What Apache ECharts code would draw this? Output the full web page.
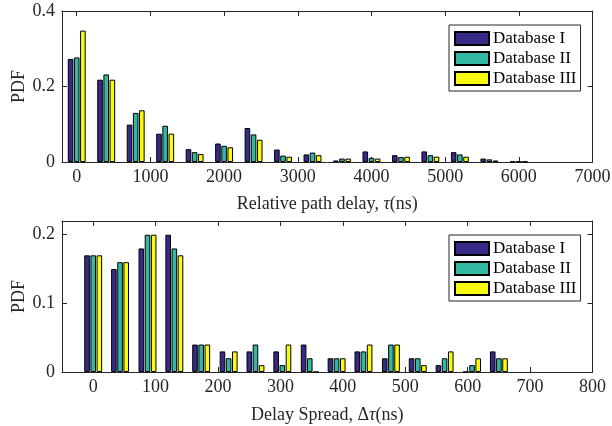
<!DOCTYPE html>
<html>
<head>
<meta charset="utf-8">
<script src="https://cdn.jsdelivr.net/npm/echarts@6/dist/echarts.min.js"></script>
<style>
html,body{margin:0;padding:0;background:#fff;}
#c{width:612px;height:426px;}
</style>
</head>
<body>
<div id="c"></div>
<script>
// ---- Data: top panel (relative path delay) ----
const delayTau = [0, 400, 800, 1200, 1600, 2000, 2400, 2800, 3200, 3600, 4000, 4400, 4800, 5200, 5600, 6000];
const tauDB1 = [0.273, 0.218, 0.099, 0.075, 0.034, 0.049, 0.090, 0.033, 0.020, 0.004, 0.028, 0.018, 0.028, 0.026, 0.009, 0.001];
const tauDB2 = [0.277, 0.232, 0.130, 0.096, 0.026, 0.043, 0.073, 0.017, 0.025, 0.009, 0.011, 0.013, 0.018, 0.020, 0.007, 0.001];
const tauDB3 = [0.348, 0.218, 0.137, 0.075, 0.021, 0.039, 0.059, 0.014, 0.018, 0.009, 0.009, 0.014, 0.014, 0.014, 0.004, 0.001];
const tauTicks = [0, 1000, 2000, 3000, 4000, 5000, 6000, 7000];
const tauYTicks = [0, 0.2, 0.4];

// ---- Data: bottom panel (delay spread) ----
const spread = [0, 43, 87, 130, 173, 217, 260, 303, 347, 390, 433, 477, 520, 563, 607, 650];
const dsDB1 = [0.17, 0.15, 0.18, 0.20, 0.04, 0.03, 0.03, 0.03, 0.04, 0.02, 0.03, 0.02, 0.02, 0.01, 0.00, 0.03];
const dsDB2 = [0.17, 0.16, 0.20, 0.18, 0.04, 0.02, 0.04, 0.01, 0.02, 0.02, 0.03, 0.04, 0.02, 0.02, 0.01, 0.02];
const dsDB3 = [0.17, 0.16, 0.20, 0.17, 0.04, 0.03, 0.01, 0.04, 0.00, 0.02, 0.04, 0.04, 0.01, 0.03, 0.02, 0.02];
const dsTicks = [0, 100, 200, 300, 400, 500, 600, 700, 800];
const dsYTicks = [0, 0.1, 0.2];

const names = ['Database I', 'Database II', 'Database III'];
const colors = ['#352A87', '#33B8A1', '#F9FB0E'];

const FONT = 'Liberation Serif';
const AX = '#262626';
const zip = (xs, ys) => xs.map((x, i) => [x, ys[i]]);

function xAx(grid, min, max, ticks, name, pos, show, gap) {
  return {
    type: 'value', gridIndex: grid, min: min, max: max, position: pos,
    name: show ? name : '', nameLocation: 'middle', nameGap: gap || 30,
    nameTextStyle: { fontFamily: FONT, fontSize: 18, color: AX, rich: { i: { fontFamily: FONT, fontSize: 18, fontStyle: 'italic', color: AX } } },
    axisLine: { show: true, onZero: false, lineStyle: { color: AX, width: 1 } },
    axisTick: { show: true, inside: true, length: 5, customValues: ticks, lineStyle: { color: AX } },
    axisLabel: { show: show, customValues: ticks, margin: 6, fontFamily: FONT, fontSize: 18, color: AX,
      formatter: v => String(v) },
    splitLine: { show: false }
  };
}
function yAx(grid, min, max, ticks, pos, show) {
  return {
    type: 'value', gridIndex: grid, min: min, max: max, position: pos,
    name: show ? 'PDF' : '', nameLocation: 'middle', nameGap: 34, nameRotate: 90,
    nameMoveOverlap: false,
    nameTextStyle: { fontFamily: FONT, fontSize: 18, color: AX },
    axisLine: { show: true, onZero: false, lineStyle: { color: AX, width: 1 } },
    axisTick: { show: true, inside: true, length: 5, customValues: ticks, lineStyle: { color: AX } },
    axisLabel: { show: show, customValues: ticks, margin: 7, fontFamily: FONT, fontSize: 18, color: AX,
      formatter: v => String(+v.toFixed(2)) },
    splitLine: { show: false }
  };
}
function barSeries(name, color, data, xi, yi) {
  return {
    type: 'bar', name: name, xAxisIndex: xi, yAxisIndex: yi, data: data,
    barWidth: 5.6, barGap: '10%',
    itemStyle: { color: color, borderColor: '#000', borderWidth: 1 },
    animation: false
  };
}
function legend(top) {
  return {
    data: names, orient: 'vertical', left: 449, top: top,
    icon: 'rect',
    itemWidth: 34, itemHeight: 13, itemGap: 3,
    padding: [5, 4, 4, 5],
    backgroundColor: '#fff', borderColor: AX, borderWidth: 1, borderRadius: 0,
    textStyle: { fontFamily: FONT, fontSize: 17, color: '#000', lineHeight: 13, padding: [0, 0, 0, -1] },
    selectedMode: false
  };
}

const chart = echarts.init(document.getElementById('c'), null, { renderer: 'canvas' });
chart.setOption({
  backgroundColor: '#fff',
  animation: false,
  grid: [
    { left: 62, right: 19.5, top: 11, height: 151, outerBoundsMode: 'none', containLabel: false },
    { left: 62, right: 19.5, top: 221, height: 151, outerBoundsMode: 'none', containLabel: false }
  ],
  xAxis: [
    xAx(0, -200, 7000, tauTicks, 'Relative path delay, {i|τ}(ns)', 'bottom', true, 33),
    xAx(0, -200, 7000, tauTicks, '', 'top', false),
    xAx(1, -50, 800, dsTicks, 'Delay Spread, Δ{i|τ}(ns)', 'bottom', true, 34),
    xAx(1, -50, 800, dsTicks, '', 'top', false)
  ],
  yAxis: [
    yAx(0, 0, 0.4, tauYTicks, 'left', true),
    yAx(0, 0, 0.4, tauYTicks, 'right', false),
    yAx(1, 0, 0.22, dsYTicks, 'left', true),
    yAx(1, 0, 0.22, dsYTicks, 'right', false)
  ],
  legend: [legend(25), legend(235)],
  series: [
    barSeries(names[0], colors[0], zip(delayTau, tauDB1), 0, 0),
    barSeries(names[1], colors[1], zip(delayTau, tauDB2), 0, 0),
    barSeries(names[2], colors[2], zip(delayTau, tauDB3), 0, 0),
    barSeries(names[0], colors[0], zip(spread, dsDB1), 2, 2),
    barSeries(names[1], colors[1], zip(spread, dsDB2), 2, 2),
    barSeries(names[2], colors[2], zip(spread, dsDB3), 2, 2)
  ]
});
</script>
</body>
</html>
